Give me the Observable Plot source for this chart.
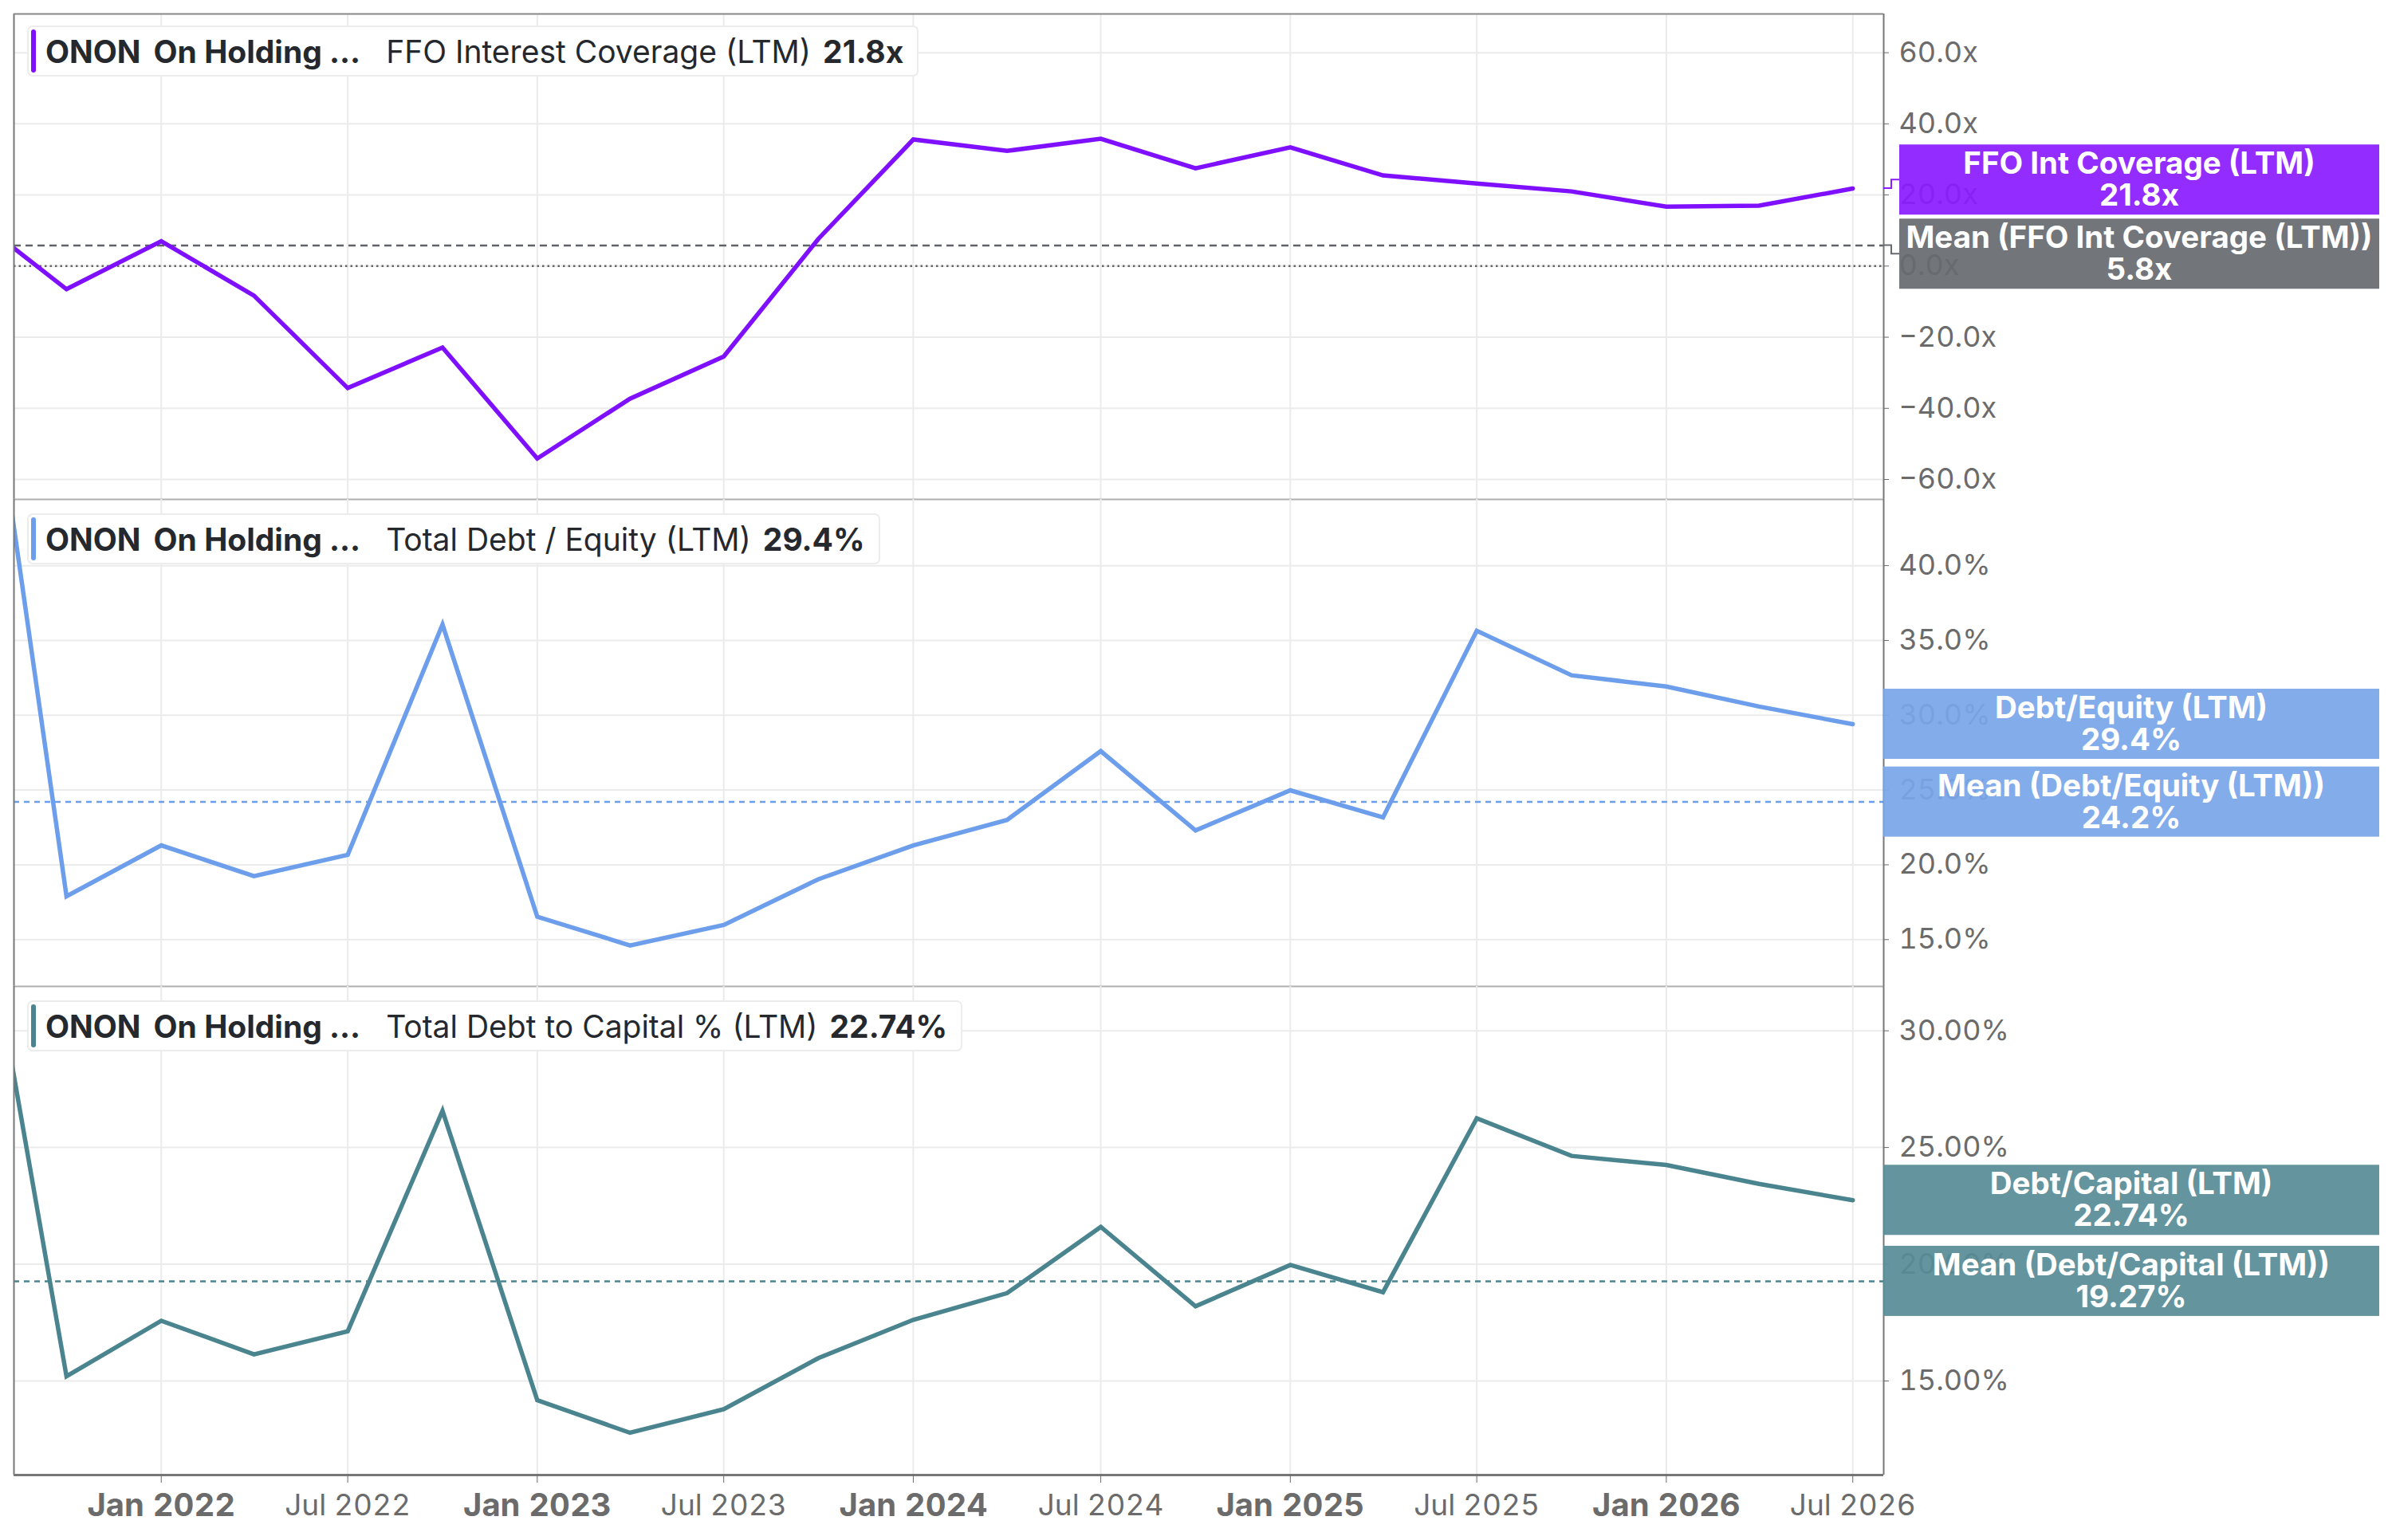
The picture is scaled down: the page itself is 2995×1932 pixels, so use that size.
<!DOCTYPE html>
<html>
<head>
<meta charset="utf-8">
<script src="https://cdn.jsdelivr.net/npm/d3@7"></script>
<script src="https://cdn.jsdelivr.net/npm/@observablehq/plot@0.6"></script>
<style>
html,body{margin:0;padding:0;background:#fff;}
#wrap{position:relative;width:2995px;height:1932px;overflow:hidden;font-family:Inter,"Noto Sans",sans-serif;}
#wrap svg{display:block;}
.legend{position:absolute;left:34px;height:64px;border:2px solid #ececec;border-radius:7px;background:#fff;display:flex;align-items:center;white-space:nowrap;font-size:39px;color:#25282d;box-sizing:border-box;padding:0 17px 0 21px;}
.legend .bar{position:absolute;left:3px;top:3px;bottom:3px;width:6px;border-radius:3px;}
.legend b{font-weight:700;}
.legend .sp1{margin-left:16px;}
.legend .sp2{margin-left:32px;}
.legend .sp3{margin-left:15px;}
</style>
</head>
<body>
<div id="wrap"></div>
<script>
// ---- data ----
const dates = ["2021-07-01","2021-10-01","2022-01-01","2022-04-01","2022-07-01","2022-10-01","2023-01-01","2023-04-01","2023-07-01","2023-10-01","2024-01-01","2024-04-01","2024-07-01","2024-10-01","2025-01-01","2025-04-01","2025-07-01","2025-10-01","2026-01-01","2026-04-01","2026-07-01"];
const ffoCoverage = [14.3,-6.5,7.0,-8.3,-34.3,-22.9,-54.1,-37.3,-25.4,7.7,35.6,32.4,35.8,27.5,33.4,25.5,23.2,21.0,16.7,17.0,21.8];
const debtEquity = [62.4,17.9,21.3,19.24,20.67,36.06,16.53,14.61,15.98,19.04,21.3,23.0,27.6,22.3,24.98,23.17,35.65,32.67,31.92,30.58,29.4];
const debtCapital = [38.4,15.2,17.58,16.14,17.13,26.57,14.18,12.78,13.79,15.98,17.62,18.76,21.6,18.2,19.97,18.8,26.25,24.64,24.25,23.44,22.74];
const means = [5.8, 24.2, 19.27];
const seriesNames = ["FFO Interest Coverage (LTM)", "Total Debt / Equity (LTM)", "Total Debt to Capital % (LTM)"];
const shortNames = ["FFO Int Coverage (LTM)", "Debt/Equity (LTM)", "Debt/Capital (LTM)"];
const company = "ONON  On Holding ...";
const janTicks = ["2022-01-01","2023-01-01","2024-01-01","2025-01-01","2026-01-01"];
const julTicks = ["2022-07-01","2023-07-01","2024-07-01","2025-07-01","2026-07-01"];
const ticks1 = [-60,-40,-20,0,20,40,60];
const ticks2 = [15,20,25,30,35,40];
const ticks3 = [15,20,25,30];
const xDomain = ["2021-08-11","2026-07-31"];

// ---- layout/style ----
const W = 2995, ML = 17, MR = 633;
const fmt1 = d => d3.format(".1f")(d) + "x";
const fmt2 = d => d3.format(".1f")(d) + "%";
const fmt3 = d => d3.format(".2f")(d) + "%";

const panels = [
  {series: ffoCoverage, mean: means[0], fmt: fmt1, ticks: ticks1, domain: [-65.6, 70.9], height: 626, mt: 17, mb: 0,
   color: "#7f10ff", meanColor: "#5f6268", boxColors: ["#8a1cff", "#676a70"], zero: true, top: 0, legendTop: 32, dash: "9,6"},
  {series: debtEquity, mean: means[1], fmt: fmt2, ticks: ticks2, domain: [11.87, 44.43], height: 611, mt: 0, mb: 0,
   color: "#6d9eeb", meanColor: "#6d9eeb", boxColors: ["#7aa6ea", "#7aa6ea"], zero: false, top: 626, legendTop: 644, dash: "7,6"},
  {series: debtCapital, mean: means[2], fmt: fmt3, ticks: ticks3, domain: [10.97, 31.9], height: 695, mt: 0, mb: 82,
   color: "#4a848f", meanColor: "#4a848f", boxColors: ["#588c97", "#588c97"], zero: false, top: 1237, legendTop: 1255, dash: "7,6", xAxis: true}
];

const wrap = document.getElementById("wrap");
const gridTicks = janTicks.concat(julTicks).map(d => new Date(d));

panels.forEach((p, idx) => {
  const data = dates.map((d, i) => ({date: new Date(d), value: p.series[i]}));
  const marks = [
    Plot.gridX({ticks: gridTicks, stroke: "#ebebeb", strokeOpacity: 1, strokeWidth: 2}),
    Plot.gridY({ticks: p.ticks, stroke: "#ebebeb", strokeOpacity: 1, strokeWidth: 2}),
  ];
  if (p.zero) marks.push(Plot.ruleY([0], {stroke: "#666", strokeWidth: 2.5, strokeDasharray: "2.5,4"}));
  marks.push(Plot.ruleY([p.mean], {stroke: p.meanColor, strokeWidth: 2.5, strokeDasharray: p.dash}));
  marks.push(Plot.line(data, {x: "date", y: "value", stroke: p.color, strokeWidth: 5.5, clip: true, strokeLinejoin: "miter", strokeMiterlimit: 3}));
  // frame edges
  marks.push(Plot.ruleX([new Date(xDomain[0])], {stroke: "#777", strokeWidth: 2}));
  marks.push(Plot.ruleX([new Date(xDomain[1])], {stroke: "#777", strokeWidth: 2}));
  if (idx === 0) marks.push(Plot.ruleY([p.domain[1]], {stroke: "#888", strokeWidth: 2}));
  if (idx < 2) marks.push(Plot.ruleY([p.domain[0]], {stroke: "#b0b0b0", strokeWidth: 2}));
  else marks.push(Plot.ruleY([p.domain[0]], {stroke: "#777", strokeWidth: 3}));
  marks.push(Plot.axisY({anchor: "right", ticks: p.ticks, tickFormat: p.fmt, tickSize: 6, tickPadding: 13,
    fontSize: 36, color: "#6b6b6b", label: null}));
  if (p.xAxis) {
    marks.push(Plot.axisX({ticks: janTicks.map(d => new Date(d)), tickFormat: d3.utcFormat("%b %Y"), fontSize: 40,
      fontWeight: "bold", tickSize: 10, tickPadding: 13, color: "#6b6b6b", label: null}));
    marks.push(Plot.axisX({ticks: julTicks.map(d => new Date(d)), tickFormat: d3.utcFormat("%b %Y"), fontSize: 37,
      fontWeight: "normal", tickSize: 10, tickPadding: 14, color: "#6b6b6b", label: null}));
  }
  const svg = Plot.plot({
    width: W, height: p.height,
    marginLeft: ML, marginRight: MR, marginTop: p.mt, marginBottom: p.mb,
    x: {type: "utc", domain: xDomain.map(d => new Date(d)), axis: p.xAxis ? undefined : null},
    y: {domain: p.domain, axis: null},
    style: {background: "transparent", overflow: "visible", fontFamily: "Inter, 'Noto Sans', sans-serif"},
    marks
  });
  svg.style.position = "absolute";
  svg.style.left = "0px";
  svg.style.top = p.top + "px";
  svg.style.maxWidth = "none";
  wrap.appendChild(svg);

  // value boxes on the right, positioned with the plot's y scale
  const ys = svg.scale("y");
  const last = p.series[p.series.length - 1];
  const vals = [last, p.mean];
  const labels = [
    [shortNames[idx], p.fmt(last)],
    ["Mean (" + shortNames[idx] + ")", p.fmt(p.mean)]
  ];
  const yv = vals.map(v => ys.apply(v));
  const h = 88, gap = 5;
  let c = yv.slice();
  let shifted = false;
  if (Math.abs(c[0] - c[1]) < h + gap) {
    shifted = true;
    const mid = (c[0] + c[1]) / 2;
    const s = c[0] < c[1] ? -1 : 1;
    c[0] = mid + s * (h + gap) / 2;
    c[1] = mid - s * (h + gap) / 2;
  }
  const axisX = W - MR;
  const x0 = axisX + (shifted ? 20 : 0), x1 = 2984;
  const g = d3.select(svg).append("g");
  [1, 0].forEach(k => {
    if (shifted) {
      g.append("path")
        .attr("d", `M${axisX},${yv[k]}H${axisX + 10}V${c[k]}H${x0}`)
        .attr("fill", "none").attr("stroke", p.boxColors[k]).attr("stroke-width", 2);
    }
    g.append("rect").attr("x", x0).attr("y", c[k] - h / 2).attr("width", x1 - x0).attr("height", h)
      .attr("fill", p.boxColors[k]).attr("fill-opacity", 0.93);
    const t = g.append("text").attr("text-anchor", "middle").attr("fill", "#fff")
      .attr("font-size", 38.5).attr("font-weight", 700).attr("font-family", "Inter, 'Noto Sans', sans-serif");
    t.append("tspan").attr("x", (x0 + x1) / 2).attr("y", c[k] - 7).text(labels[k][0]);
    t.append("tspan").attr("x", (x0 + x1) / 2).attr("y", c[k] + 33).text(labels[k][1]);
  });

  // legend box
  const lg = document.createElement("div");
  lg.className = "legend";
  lg.style.top = p.legendTop + "px";
  const bar = document.createElement("div");
  bar.className = "bar";
  bar.style.background = p.color;
  lg.appendChild(bar);
  const parts = company.split("  ");
  const b1 = document.createElement("b"); b1.textContent = parts[0]; lg.appendChild(b1);
  const b2 = document.createElement("b"); b2.className = "sp1"; b2.textContent = parts[1]; lg.appendChild(b2);
  const s3 = document.createElement("span"); s3.className = "sp2"; s3.textContent = seriesNames[idx]; lg.appendChild(s3);
  const b4 = document.createElement("b"); b4.className = "sp3"; b4.textContent = p.fmt(last); lg.appendChild(b4);
  wrap.appendChild(lg);
});
</script>
</body>
</html>
